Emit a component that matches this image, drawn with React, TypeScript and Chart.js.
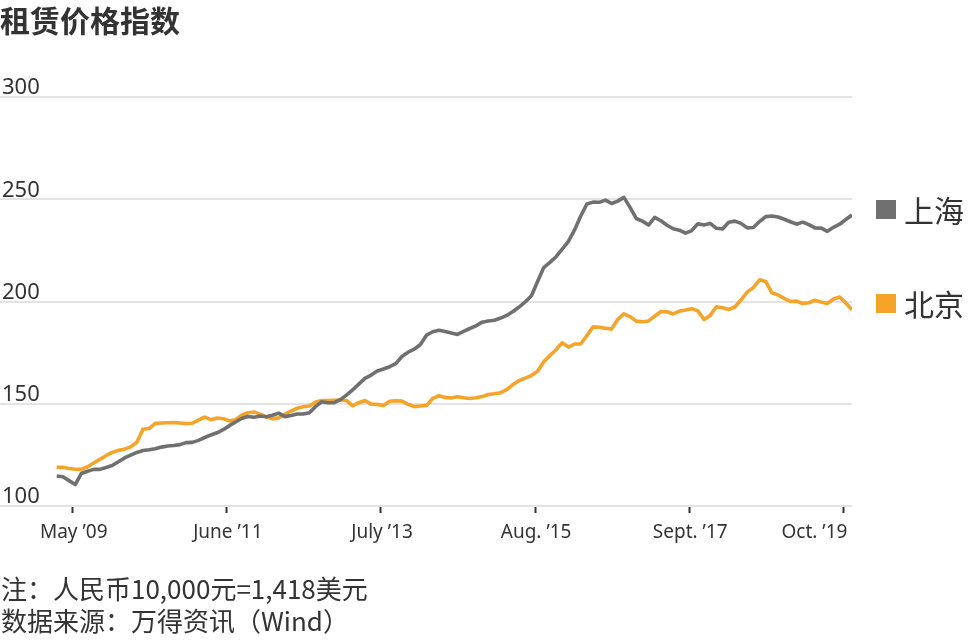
import React, { useEffect, useRef } from "react";
import { Chart, registerables } from "chart.js";

Chart.register(...registerables);

// ---- data ----
const chartTitle = "租赁价格指数";
const seriesNames = ["上海", "北京"];
// first observation, in months after Jan 2009 (monthly series)
const startMonth = 1.4;
const shanghai = [
  114.7, 114.3, 112.4, 110.5, 115.9, 117.0, 117.9, 117.9, 118.8, 119.8,
  121.6, 123.5, 124.9, 126.2, 127.1, 127.5, 128.0, 128.8, 129.3, 129.6,
  130.0, 131.0, 131.1, 132.1, 133.5, 134.7, 135.8, 137.3, 139.3, 141.1,
  142.8, 143.8, 143.4, 144.0, 143.6, 144.4, 145.4, 143.7, 144.3, 145.0,
  145.0, 145.6, 148.7, 151.0, 150.5, 150.5, 152.0, 154.2, 156.8, 159.6,
  162.4, 164.0, 166.0, 167.0, 168.1, 169.6, 173.1, 175.2, 176.7, 179.0,
  183.6, 185.2, 185.9, 185.3, 184.6, 183.9, 185.4, 186.8, 188.1, 189.9,
  190.5, 190.8, 191.9, 193.2, 195.1, 197.3, 199.8, 202.8, 209.8, 216.6,
  219.1, 221.9, 225.6, 229.4, 235.0, 241.8, 247.7, 248.6, 248.5, 249.6,
  247.9, 249.1, 250.9, 246.0, 240.6, 239.3, 237.4, 241.1, 239.5, 237.3,
  235.6, 234.9, 233.4, 234.7, 238.0, 237.4, 238.2, 235.8, 235.5, 238.7,
  239.3, 238.2, 236.0, 236.2, 239.1, 241.5, 241.8, 241.3, 240.2, 239.0,
  237.8, 238.8, 237.6, 236.0, 235.9, 234.3, 236.3, 237.8, 240.1, 242.3,
];
const beijing = [
  118.9, 118.9, 118.3, 118.0, 117.9, 119.2, 121.0, 122.8, 124.6, 126.2,
  127.2, 127.8, 128.9, 131.2, 137.5, 137.9, 140.4, 140.6, 140.7, 140.8,
  140.6, 140.3, 140.5, 142.0, 143.5, 142.2, 143.0, 142.7, 141.6, 142.2,
  144.4, 145.6, 146.0, 144.9, 143.6, 142.6, 143.1, 144.9, 146.4, 147.8,
  148.5, 148.9, 150.8, 151.6, 151.6, 151.7, 151.8, 151.6, 149.0, 150.5,
  151.6, 149.8, 149.7, 149.1, 151.2, 151.5, 151.3, 149.7, 148.6, 148.9,
  149.2, 152.6, 153.9, 153.1, 152.8, 153.4, 152.9, 152.6, 152.9, 153.5,
  154.5, 154.9, 155.4, 156.9, 159.4, 161.3, 162.5, 163.8, 165.9, 170.5,
  173.6, 176.4, 179.8, 177.7, 179.2, 179.2, 183.4, 187.6, 187.4, 186.9,
  186.5, 191.2, 194.0, 192.6, 190.4, 190.1, 190.5, 192.8, 195.1, 195.0,
  193.9, 195.3, 195.8, 196.5, 195.4, 191.2, 193.2, 197.4, 196.9, 196.1,
  197.3, 200.8, 204.6, 206.8, 210.6, 209.8, 204.2, 203.2, 201.5, 200.0,
  200.2, 199.0, 199.4, 200.6, 199.7, 199.0, 201.2, 202.2, 199.3, 196.0,
];
const yTickValues = [100, 150, 200, 250, 300];
const xTickMonths = [4, 29, 54, 79, 104, 129];
const xTickLabels = ["May ’09", "June ’11", "July ’13", "Aug. ’15", "Sept. ’17", "Oct. ’19"];
const xMin = -7.8;
const xMax = 130.4;
const notes = ["注：人民币10,000元=1,418美元", "数据来源：万得资讯（Wind）"];

const GRAY = "#707070";
const ORANGE = "#f5a42a";
const TEXT = "#333333";
const CJK = '"Noto Sans CJK SC", "Noto Sans", sans-serif';

// draws the x tick labels from the x scale; the last one ends at its tick
const xLabelPlugin = {
  id: "xLabels",
  afterDraw(chart: any) {
    const s = chart.scales.x;
    const ctx = chart.ctx;
    ctx.save();
    ctx.font = '19px "Noto Sans"';
    ctx.fillStyle = TEXT;
    ctx.textBaseline = "alphabetic";
    s.ticks.forEach((t: any, i: number) => {
      const px = s.getPixelForValue(t.value);
      const last = i === s.ticks.length - 1;
      ctx.textAlign = last ? "right" : "center";
      ctx.fillText(xTickLabels[i], last ? px + 4 : px + 1, s.top + 32);
    });
    ctx.restore();
  },
};

export default function App() {
  const ref = useRef<HTMLCanvasElement | null>(null);

  useEffect(() => {
    document.body.style.margin = "0";
    const canvas = ref.current;
    if (!canvas) return;
    const chart = new Chart(canvas, {
      type: "line",
      data: {
        datasets: [
          {
            label: seriesNames[0],
            data: shanghai.map((v, i) => ({ x: startMonth + i, y: v })),
            borderColor: GRAY,
            borderWidth: 3.6,
            pointRadius: 0,
            tension: 0,
            borderJoinStyle: "round",
          },
          {
            label: seriesNames[1],
            data: beijing.map((v, i) => ({ x: startMonth + i, y: v })),
            borderColor: ORANGE,
            borderWidth: 3.6,
            pointRadius: 0,
            tension: 0,
            borderJoinStyle: "round",
          },
        ],
      },
      options: {
        responsive: false,
        animation: false,
        events: [],
        layout: { padding: { left: 0, top: 97, right: 116, bottom: 98 } },
        plugins: {
          legend: { display: false },
          tooltip: { enabled: false },
          title: { display: false },
        },
        scales: {
          x: {
            type: "linear",
            min: xMin,
            max: xMax,
            afterBuildTicks: (s: any) => {
              s.ticks = xTickMonths.map((v) => ({ value: v }));
            },
            afterFit: (s: any) => {
              s.height = 40;
              s.paddingLeft = 0;
              s.paddingRight = 0;
            },
            ticks: { display: false, autoSkip: false },
            grid: {
              drawOnChartArea: false,
              drawTicks: true,
              tickLength: 7,
              tickWidth: 2,
              tickColor: "#333",
            },
            border: { display: false },
          },
          y: {
            min: 100,
            max: 300,
            afterBuildTicks: (s: any) => {
              s.ticks = yTickValues.map((v) => ({ value: v }));
            },
            afterFit: (s: any) => {
              s.width = 0;
              s.paddingTop = 0;
              s.paddingBottom = 0;
            },
            ticks: {
              mirror: true,
              padding: 2,
              labelOffset: -9,
              color: TEXT,
              font: { family: "Noto Sans", size: 22 },
            },
            grid: { color: "#e3e3e3", lineWidth: 2, drawTicks: false },
            border: { display: false },
          },
        },
      },
      plugins: [xLabelPlugin],
    } as any);
    return () => chart.destroy();
  }, []);

  const legendItem = (name: string, color: string, top: number) => (
    <div style={{ position: "absolute", left: 876, top, height: 30, display: "flex", alignItems: "center" }}>
      <div style={{ width: 20, height: 19, background: color, marginRight: 8 }} />
      <span style={{ fontFamily: CJK, fontSize: 30, lineHeight: "30px", color: TEXT }}>{name}</span>
    </div>
  );

  return (
    <div style={{ position: "absolute", left: 0, top: 0, width: 968, height: 644, background: "#fff", overflow: "hidden" }}>
      <canvas ref={ref} width={968} height={644} style={{ position: "absolute", left: 0, top: 0, display: "block" }} />
      <div style={{ position: "absolute", left: 0, top: 2, fontFamily: CJK, fontSize: 30, fontWeight: 700, lineHeight: "34px", color: TEXT }}>
        {chartTitle}
      </div>
      {legendItem(seriesNames[0], GRAY, 194)}
      {legendItem(seriesNames[1], ORANGE, 288)}
      <div style={{ position: "absolute", left: 1, top: 572, fontFamily: CJK, fontSize: 26, lineHeight: "32px", color: TEXT }}>
        {notes.map((n) => (
          <div key={n}>{n}</div>
        ))}
      </div>
    </div>
  );
}
